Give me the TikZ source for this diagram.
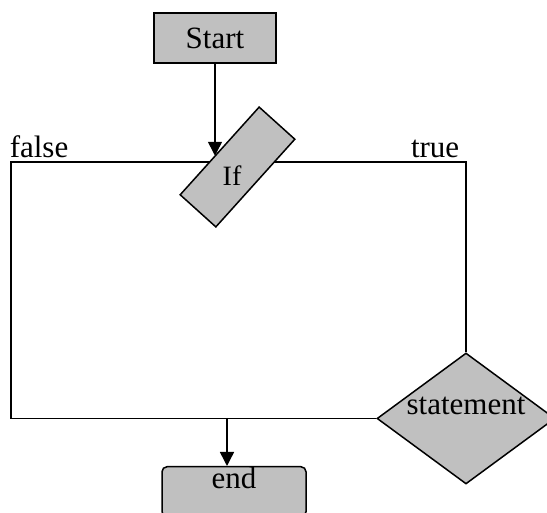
\documentclass[tikz,border=0pt]{standalone}
\usepackage{fontspec}
\setmainfont{Liberation Serif}
\usetikzlibrary{shapes.geometric,arrows.meta,calc}
\definecolor{boxgray}{RGB}{192,192,192}
\begin{document}
\begin{tikzpicture}[x=1pt,y=1pt,line width=1.5pt,
  every node/.style={font=\fontsize{31}{36}\selectfont},
  flowbox/.style={draw,fill=boxgray,inner sep=0pt},
  arrow/.style={-{Triangle[length=14pt,width=14pt]}}]
  \useasboundingbox (0,0) rectangle (547,513);
  % Start box
  \node[flowbox,minimum width=122,minimum height=50] (start) at (215,475) {Start};
  % Statement diamond
  \node[flowbox,diamond,aspect=1.36,inner xsep=-10pt,text height=20pt,text depth=27pt,
    minimum width=178,minimum height=131] (statement) at (466,94.5) {statement};
  % End box
  \node[flowbox,rounded corners=5pt,minimum width=144,text height=22pt,text depth=28pt,
    anchor=north] (end) at (234,47) {end};
  % Loop lines
  \coordinate (falsecorner) at (11,351);
  \draw (statement.north) |- (falsecorner) |- (statement.west);
  \node[anchor=base west,inner sep=0pt] (falselabel) at (9,355) {false};
  \node[anchor=base east,inner sep=0pt] (truelabel) at (460,355) {true};
  % If box
  \node[flowbox,rotate=48,minimum width=118,minimum height=48,font=\fontsize{28}{32}\selectfont] (if) at (237.5,346)
    {\rotatebox{-48}{\makebox[0pt][c]{\hspace*{-11pt}\raisebox{-19pt}[0pt][0pt]{If}}}};
  % Arrows
  \coordinate (ifin) at ($(if.north west)!0.44!(if.north east)$);
  \draw[arrow] (start.south) -- (start.south |- ifin);
  \coordinate (merge) at (227,95);
  \draw[arrow] (merge) -- (merge |- end.north);
\end{tikzpicture}
\end{document}
